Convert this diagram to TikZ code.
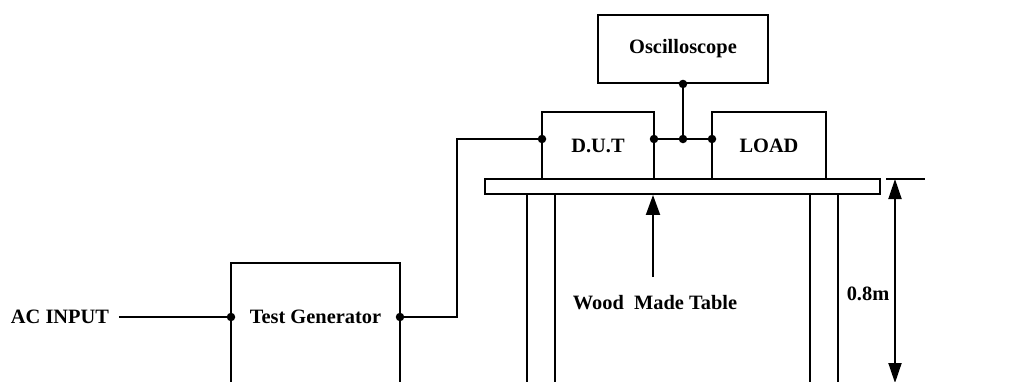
\documentclass[tikz,border=0pt]{standalone}
\usepackage{fontspec}
\setmainfont{Liberation Serif}
\usetikzlibrary{arrows.meta}
\begin{document}
\begin{tikzpicture}[x=1pt,y=-1pt, line width=1.9pt,
  txt/.style={font=\bfseries\fontsize{20.4}{23}\selectfont},
  box/.style={draw, line width=1.9pt, inner sep=0pt, txt},
  lbl/.style={inner sep=0pt, txt},
  dot/.style={circle, fill, inner sep=0pt, minimum size=8.5pt},
  tip/.style={-{Triangle[length=20pt,width=14pt]}},
  dtip/.style={{Triangle[length=20pt,width=13pt]}-{Triangle[length=20pt,width=13pt]}}]
\useasboundingbox (0,0) rectangle (1023,381);
\clip (0,0) rectangle (1023,381);
% boxes
\node[box, minimum width=170, minimum height=68] (osc) at (683,49) {Oscilloscope};
\node[box, minimum width=112, minimum height=67] (dut) at (598,145.5) {D.U.T};
\node[box, minimum width=114, minimum height=67] (load) at (769,145.5) {LOAD};
\node[box, minimum width=395, minimum height=15] (table) at (682.5,186.5) {};
\node[box, minimum width=169, minimum height=170, anchor=north] (tg) at (315.5,262) {};
\node[lbl] (tgt) at (315.5,317) {Test Generator};
\node[lbl] (ac) at (60,317) {AC INPUT};
\node[lbl] (wood) at (655,303) {Wood\ \ Made Table};
\node[lbl] (dim) at (868,294) {0.8m};
% dots
\node[dot] (tgin) at (231,317) {};
\node[dot] (tgout) at (400,317) {};
\node[dot] (dutin) at (542,139) {};
\node[dot] (dutout) at (654,139) {};
\node[dot] (mid) at (683,139) {};
\node[dot] (loadin) at (712,139) {};
\node[dot] (oscout) at (osc.south) {};
% wires
\draw ([xshift=9pt]ac.east) -- (tgin.center);
\draw (tgout.center) -- (457,317) -- (457,139) -- (dutin.center);
\draw (dutout.center) -- (loadin.center);
\draw (mid.center) -- (oscout.center);
% legs
\coordinate (l1) at (527,194);
\coordinate (l2) at (555,194);
\coordinate (l3) at (810,194);
\coordinate (l4) at (838,194);
\foreach \c in {l1,l2,l3,l4} \draw (\c) -- ++(0,200);
% wood arrow
\coordinate (wa) at (653,277);
\draw[tip] (wa) -- (wa |- table.south);
% dimension
\coordinate (dt1) at (886,179);
\coordinate (dt2) at (925,179);
\draw (dt1) -- (dt2);
\coordinate (dtop) at (895,179);
\coordinate (dbot) at (895,383);
\draw[dtip] (dtop) -- (dbot);
\end{tikzpicture}
\end{document}
